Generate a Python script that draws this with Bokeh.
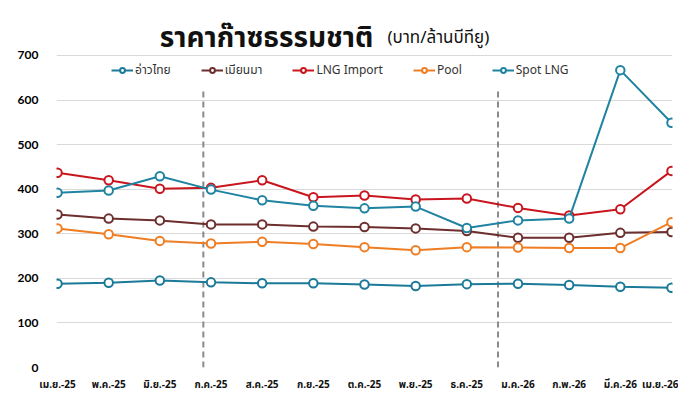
from bokeh.plotting import figure
from bokeh.models import Range1d, FixedTicker, Label, Legend, LegendItem, ColumnDataSource
from bokeh.core.properties import value
from bokeh.embed import file_html
from bokeh.resources import INLINE

months = ["เม.ย.-25", "พ.ค.-25", "มิ.ย.-25", "ก.ค.-25", "ส.ค.-25", "ก.ย.-25", "ต.ค.-25",
          "พ.ย.-25", "ธ.ค.-25", "ม.ค.-26", "ก.พ.-26", "มี.ค.-26", "เม.ย.-26"]
gulf_thailand = [188, 190, 195, 191, 189, 189, 186, 183, 187, 188, 185, 181, 179]
myanmar = [343, 334, 330, 321, 321, 316, 315, 312, 306, 291, 291, 302, 304]
lng_import = [437, 420, 401, 403, 420, 382, 386, 377, 379, 358, 341, 355, 441]
pool = [312, 299, 284, 278, 282, 277, 270, 263, 270, 269, 268, 268, 326]
spot_lng = [392, 397, 429, 399, 375, 363, 357, 361, 313, 330, 334, 667, 549]

series_names = ["อ่าวไทย", "เมียนมา", "LNG Import", "Pool", "Spot LNG"]
series_values = [gulf_thailand, myanmar, lng_import, pool, spot_lng]
series_colors = ["#1a7a98", "#6d2e2e", "#c9161e", "#ee7d23", "#1f83a1"]

y_ticks = [0, 100, 200, 300, 400, 500, 600, 700]
divider_x = [2.85, 8.61]
divider_top = 620

title_main = "ราคาก๊าซธรรมชาติ"
title_unit = "(บาท/ล้านบีทียู)"

THAI = "'Noto Sans Thai', 'Noto Sans', 'Open Sans', sans-serif"

idx = list(range(len(months)))

p = figure(width=678, height=395, output_backend="svg", toolbar_location=None,
           x_range=Range1d(-0.02, 12.02), y_range=Range1d(0, 812),
           min_border_left=56, min_border_right=6, min_border_top=5, min_border_bottom=22)
p.outline_line_color = None
p.background_fill_color = "white"
p.border_fill_color = "white"

p.xgrid.grid_line_color = None
p.ygrid.grid_line_color = "#d9d9d9"
p.ygrid.grid_line_width = 1.2

p.yaxis.ticker = FixedTicker(ticks=y_ticks)
p.yaxis.axis_line_color = None
p.yaxis.major_tick_line_color = None
p.yaxis.minor_tick_line_color = None
p.yaxis.major_label_text_font = "Lato"
p.yaxis.major_label_text_font_style = "bold"
p.yaxis.major_label_text_font_size = "12px"
p.yaxis.major_label_text_color = "#000000"
p.yaxis.major_label_standoff = 12

p.xaxis.ticker = FixedTicker(ticks=idx)
p.xaxis.major_label_overrides = {i: m for i, m in enumerate(months)}
p.xaxis.axis_line_color = None
p.xaxis.major_tick_line_color = None
p.xaxis.minor_tick_line_color = None
p.xaxis.major_label_text_font = THAI
p.xaxis.major_label_text_font_style = "bold"
p.xaxis.major_label_text_font_size = "10px"
p.xaxis.major_label_text_color = "#111111"
p.xaxis.major_label_standoff = 3

# dashed dividers
p.segment(x0=divider_x, y0=[0] * len(divider_x), x1=divider_x, y1=[divider_top] * len(divider_x),
          line_color="#8a8a8a", line_width=2, line_dash="6 4")

items = []
for name, vals, col in zip(series_names, series_values, series_colors):
    src = ColumnDataSource(dict(x=idx, y=vals))
    ln = p.line("x", "y", source=src, line_color=col, line_width=2)
    sc = p.scatter("x", "y", source=src, marker="circle", size=8.5, line_color=col,
                   line_width=2, fill_color="white")
    items.append(LegendItem(label=name, renderers=[ln, sc]))

legend = Legend(items=items, orientation="horizontal", location=(55, 288),
                label_text_font=THAI, label_text_font_size="12px", label_text_color="#333333",
                glyph_width=22, glyph_height=12, label_standoff=2, spacing=30,
                padding=0, margin=0, background_fill_alpha=0, border_line_color=None)
p.add_layout(legend, "center")

p.add_layout(Label(x=2.0, y=738, text=title_main, text_baseline="alphabetic",
                   text_font=THAI, text_font_style="bold", text_font_size="28px",
                   text_color="#111111"))
p.add_layout(Label(x=6.45, y=738, text=title_unit, text_baseline="alphabetic",
                   text_font=THAI, text_font_size="17px", text_color="#111111"))

open("out.html", "w").write(file_html(p, INLINE))
